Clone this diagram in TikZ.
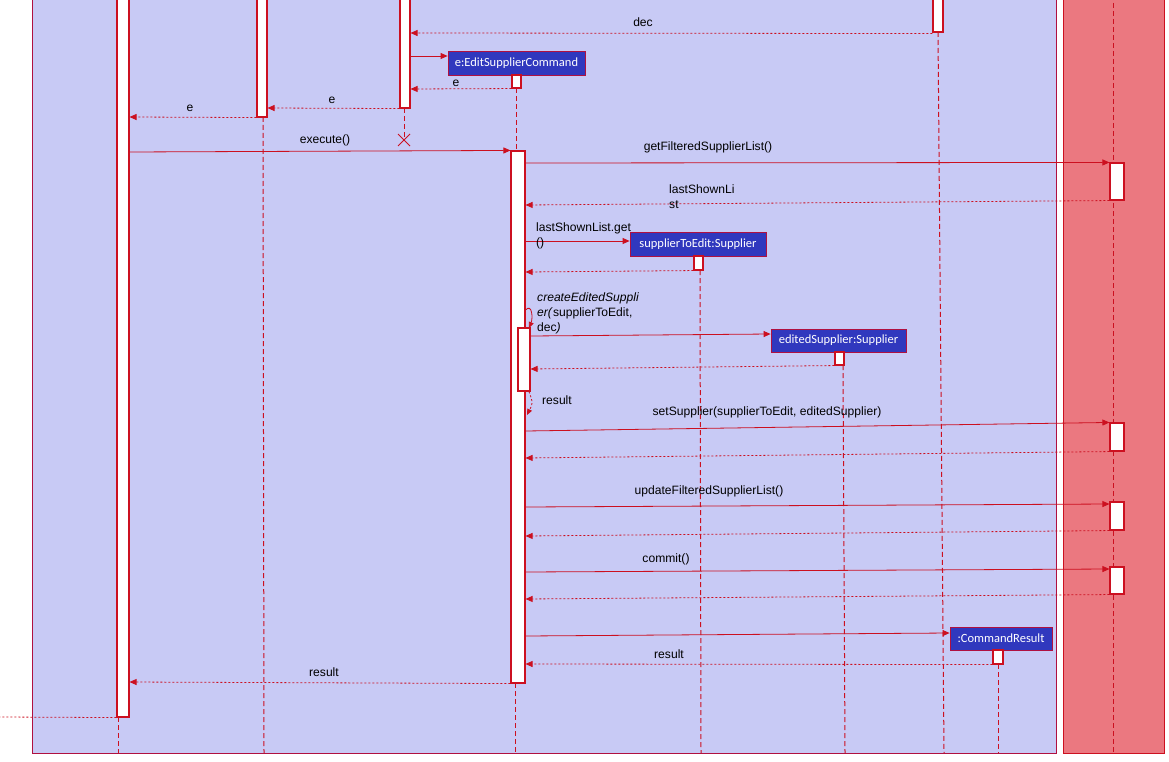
\documentclass[tikz,border=0pt]{standalone}
\usepackage{fontspec}
\setmainfont{Liberation Sans}
\newfontfamily\boxfont{Carlito}
\usetikzlibrary{arrows.meta,calc}
\definecolor{bgblue}{HTML}{C8CAF5}
\definecolor{bgred}{HTML}{EB7880}
\definecolor{objblue}{HTML}{3038BE}
\definecolor{ln}{HTML}{CC1020}
\definecolor{frameedge}{HTML}{B01040}
\tikzset{
  actbar/.style={draw=ln, fill=white, line width=1.1pt, inner sep=0pt},
  objbox/.style={draw=frameedge, fill=objblue, text=white, font=\boxfont\fontsize{12.5}{14}\selectfont, inner sep=0pt, minimum height=24pt, line width=0.8pt},
  life/.style={draw=ln, line width=1pt, dash pattern=on 5pt off 3pt},
  msg/.style={draw=ln, line width=0.8pt, -{Triangle[length=7pt,width=6pt]}},
  ret/.style={draw=ln, line width=0.8pt, dash pattern=on 2pt off 2pt, -{Triangle[length=7pt,width=6pt]}},
  lbl/.style={font=\fontsize{12.1}{15}\selectfont, inner sep=0pt, text=black},
}
\begin{document}
\begin{tikzpicture}[x=1pt,y=-1pt]
\useasboundingbox (0,0) rectangle (1169,762);
% frames
\draw[draw=frameedge, fill=bgblue, line width=0.8pt] (32,-5) rectangle (1056,753);
\draw[draw=ln, fill=bgred, line width=0.8pt] (1063,-5) rectangle (1164,753);

% lifelines (drawn first)
\draw[life] (118,717) -- (118,753);
\draw[life] (263,117) -- (264,753);
\draw[life] (404,108) -- (404,140);
\draw[life] (516,88) -- (516,151);
\draw[life] (515,683) -- (515,753);
\draw[life] (938,32) -- (944,753);
\draw[life] (700,270) -- (701,753);
\draw[life] (843,365) -- (845,753);
\draw[life] (998,664) -- (998,753);
\draw[life] (1113,-5) -- (1113,753);

% destroy mark
\coordinate (xc) at (404,140);
\draw[ln, line width=0.8pt] ($(xc)+(-6,-6)$) -- ($(xc)+(6,6)$);
\draw[ln, line width=0.8pt] ($(xc)+(-6,6)$) -- ($(xc)+(6,-6)$);

% activation bars
\node[actbar, minimum width=12pt, minimum height=722pt] (bA) at (123,356) {};
\node[actbar, minimum width=10pt, minimum height=122pt] (bB) at (262,56) {};
\node[actbar, minimum width=10pt, minimum height=113pt] (bC) at (405,51.5) {};
\node[actbar, minimum width=10pt, minimum height=37pt] (bD) at (938,13.5) {};
\node[objbox, minimum width=137pt] (eCmd) at (516.5,63) {e:EditSupplierCommand};
\node[actbar, minimum width=9pt, minimum height=13pt] (eS) at (516.5,81.5) {};
\node[actbar, minimum width=14pt, minimum height=532pt] (eA) at (518,417) {};
\node[actbar, minimum width=12pt, minimum height=63pt] (eN) at (524,359.5) {};
\node[objbox, minimum width=136pt] (sup) at (698,244) {supplierToEdit:Supplier};
\node[actbar, minimum width=9pt, minimum height=14pt] (supS) at (698.5,263) {};
\node[objbox, minimum width=135pt, minimum height=23pt] (ed) at (838.5,340.5) {editedSupplier:Supplier};
\node[actbar, minimum width=9pt, minimum height=13pt] (edS) at (839.5,358.5) {};
\node[objbox, minimum width=102pt, minimum height=23pt] (cr) at (1001,638.5) {:CommandResult};
\node[actbar, minimum width=10pt, minimum height=14pt] (crS) at (998,657) {};
\node[actbar, minimum width=14pt, minimum height=37pt] (m1) at (1117,181.5) {};
\node[actbar, minimum width=14pt, minimum height=28pt] (m2) at (1117,437) {};
\node[actbar, minimum width=14pt, minimum height=28pt] (m3) at (1117,516) {};
\node[actbar, minimum width=14pt, minimum height=27pt] (m4) at (1117,580.5) {};

% messages
\draw[ret] (bD.south west) ++(0,1) -- (bC.east |- 0,33);
\node[lbl] (tdec) at (643,22) {dec};
\draw[msg] (bC.east |- 0,56) -- (eCmd.west |- 0,56);
\draw[ret] (eS.south west) -- (bC.east |- 0,89);
\node[lbl] (te1) at (456,83) {e};
\draw[ret] (bC.south west) -- (bB.east |- 0,108);
\node[lbl] (te2) at (332,100) {e};
\draw[ret] (bB.south west) -- (bA.east |- 0,117);
\node[lbl] (te3) at (190,108) {e};
\draw[msg] (bA.east |- 0,152) -- (eA.north west);
\node[lbl] (tex) at (325,140) {execute()};
\draw[msg] (eA.east |- 0,163) -- (m1.north west);
\node[lbl] (tgf) at (708,147) {getFilteredSupplierList()};
\draw[ret] (m1.south west) -- (eA.east |- 0,205);
\node[lbl, anchor=north west, align=left] (tls) at (669,185) {lastShownLi\\st};
\draw[msg] (eA.east |- 0,241) -- (sup.west |- 0,241);
\node[lbl, anchor=north west, align=left] (tlg) at (536,223) {lastShownList.get\\()};
\draw[ret] (supS.south west) -- (eA.east |- 0,272);
% self call
\coordinate (scTip) at (529,328);
\draw[draw=ln, line width=0.8pt, -{Triangle[length=6pt,width=5pt]}] (eA.east |- 0,310) .. controls (532,303) and (533,318) .. (scTip);
\node[lbl, anchor=north west, align=left] (tce) at (537,293) {\textit{createEditedSuppli}\\\textit{er(}supplierToEdit,\\dec\textit{)}};
\draw[msg] (eN.east |- 0,336) -- (ed.west |- 0,334);
\draw[ret] (edS.south west) -- (eN.east |- 0,369);
\coordinate (rsTip) at (527,415);
\draw[draw=ln, line width=0.8pt, dash pattern=on 2pt off 2pt, -{Triangle[length=6pt,width=5pt]}] (eN.south) ++(5,0) .. controls (533,403) .. (rsTip);
\node[lbl] (tres1) at (557,400) {result};
\draw[msg] (eA.east |- 0,431) -- (m2.north west);
\node[lbl] (tss) at (767,412) {setSupplier(supplierToEdit, editedSupplier)};
\draw[ret] (m2.south west) -- (eA.east |- 0,458);
\draw[msg] (eA.east |- 0,507) -- (m3.west |- 0,504);
\node[lbl] (tuf) at (709,491) {updateFilteredSupplierList()};
\draw[ret] (m3.south west) -- (eA.east |- 0,536);
\draw[msg] (eA.east |- 0,572) -- (m4.west |- 0,569);
\node[lbl] (tcm) at (666,559) {commit()};
\draw[ret] (m4.south west) -- (eA.east |- 0,599);
\draw[msg] (eA.east |- 0,636) -- (cr.west |- 0,633);
\draw[ret] (crS.south west) -- (eA.east |- 0,664);
\node[lbl] (tres2) at (669,654) {result};
\draw[ret] (eA.south west) -- (bA.east |- 0,682);
\node[lbl] (tres3) at (324,672) {result};
\coordinate (lend) at (0,717);
\draw[draw=ln, line width=0.8pt, dash pattern=on 2pt off 2pt] (bA.south west) -- (lend);
\end{tikzpicture}
\end{document}
